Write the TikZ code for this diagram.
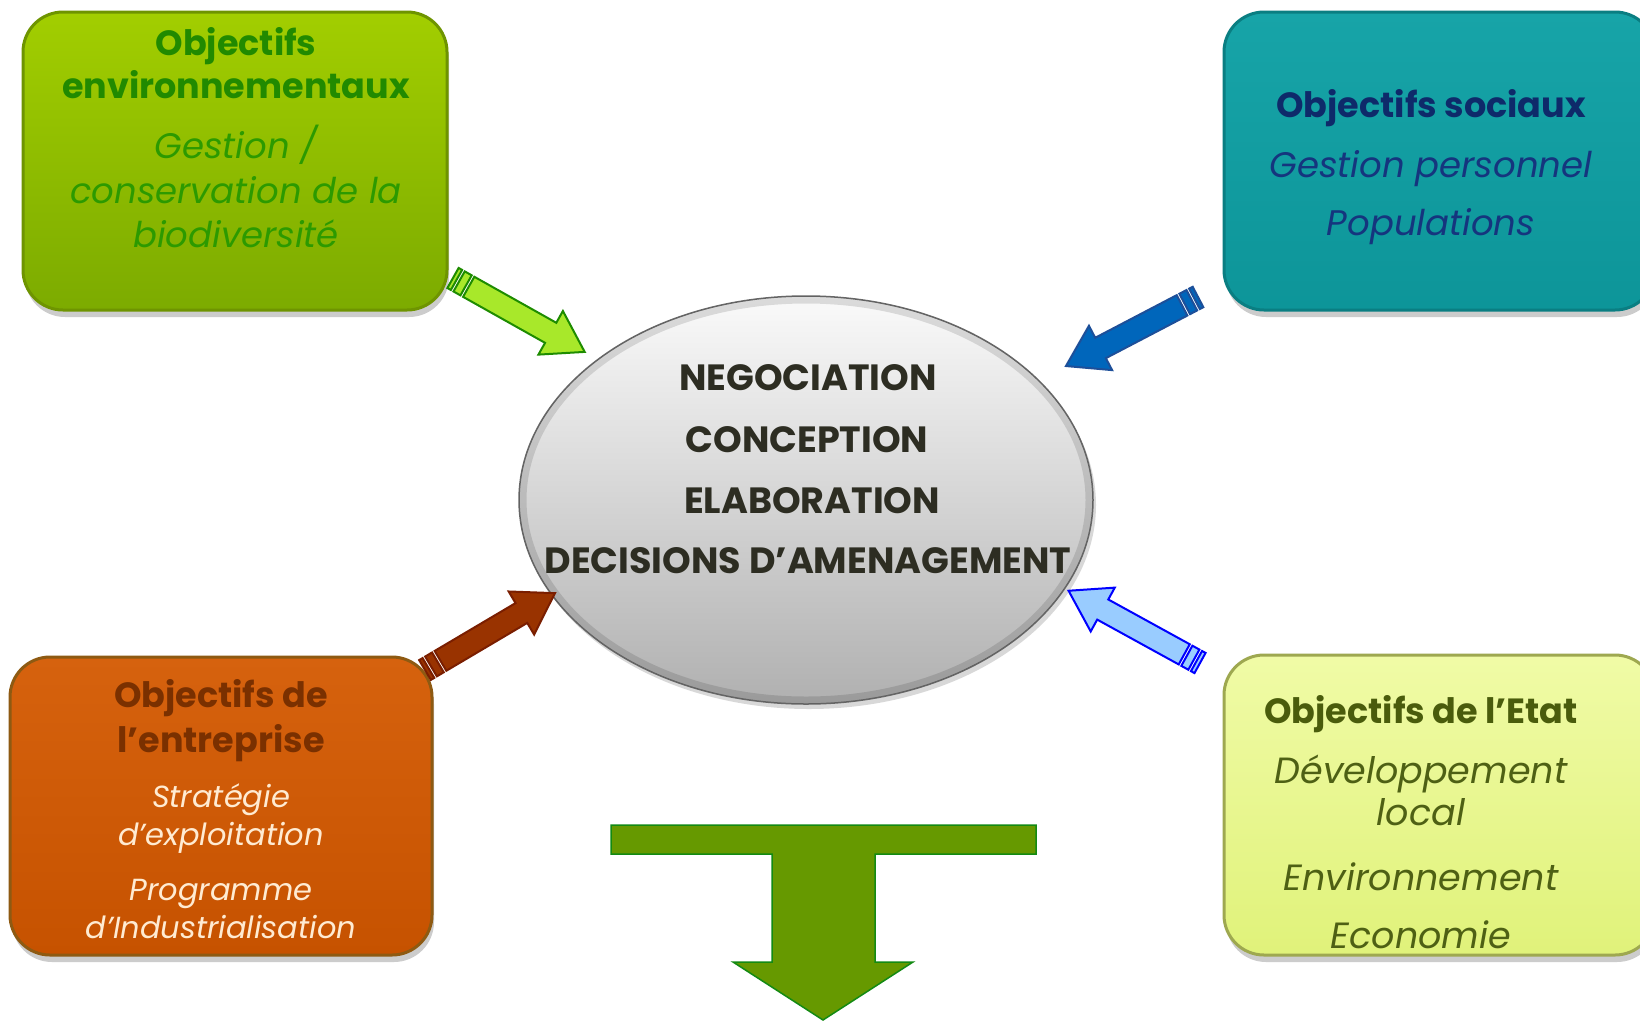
\documentclass[tikz,border=0pt]{standalone}
\usepackage{fontspec}
\setmainfont{Poppins}
\usetikzlibrary{shapes.geometric,shadows}
\definecolor{envTop}{HTML}{A2CE00}
\definecolor{envBot}{HTML}{7CAB00}
\definecolor{envRim}{HTML}{6E9400}
\definecolor{envTitle}{HTML}{218A00}
\definecolor{envText}{HTML}{2C9A00}
\definecolor{socTop}{HTML}{17A4A8}
\definecolor{socBot}{HTML}{0D9599}
\definecolor{socRim}{HTML}{0A7E82}
\definecolor{socTitle}{HTML}{0E2A6A}
\definecolor{socText}{HTML}{15357E}
\definecolor{entTop}{HTML}{D6620E}
\definecolor{entBot}{HTML}{C65200}
\definecolor{entRim}{HTML}{8E5A12}
\definecolor{entTitle}{HTML}{7A3000}
\definecolor{entText}{HTML}{FFEBD2}
\definecolor{etaTop}{HTML}{F0FBA6}
\definecolor{etaBot}{HTML}{E0F27A}
\definecolor{etaRim}{HTML}{9EA850}
\definecolor{etaTitle}{HTML}{4A5C0C}
\definecolor{etaText}{HTML}{4E6014}
\definecolor{coreText}{HTML}{2D2D22}
\definecolor{tFill}{HTML}{669900}
\definecolor{tDraw}{HTML}{138A13}
\definecolor{gaFill}{HTML}{A8E82A}
\definecolor{gaDraw}{HTML}{1E8C00}
\definecolor{baFill}{HTML}{0066BB}
\definecolor{baDraw}{HTML}{1D4F99}
\definecolor{raFill}{HTML}{993300}
\definecolor{raDraw}{HTML}{7A1E00}
\definecolor{laFill}{HTML}{99CCFF}
\definecolor{laDraw}{HTML}{0000FF}
\tikzset{
  objbox/.style n args={3}{draw=#3, line width=3pt, top color=#1, bottom color=#2,
    rounded corners=40pt, drop shadow={opacity=0.4, shadow xshift=2pt, shadow yshift=-7pt}},
  ttl/.style={font={\bfseries\fontsize{35}{40}\selectfont}, anchor=base, inner sep=0pt},
  itx/.style={font={\itshape\fontsize{35.5}{40}\selectfont}, anchor=base, inner sep=0pt},
  itxl/.style={font={\itshape\fontsize{36.5}{40}\selectfont}, anchor=base, inner sep=0pt},
  itxs/.style={font={\itshape\fontsize{30.5}{36}\selectfont}, anchor=base, inner sep=0pt},
  coretxt/.style={font={\bfseries\fontsize{36.5}{40}\selectfont}, anchor=base, inner sep=0pt, text=coreText},
  pics/striparrow/.style n args={3}{code={
    \filldraw[fill=#2, draw=#3, line width=2pt] (0,-11.5) rectangle (4,11.5);
    \filldraw[fill=#2, draw=#3, line width=2pt] (7,-11.5) rectangle (15,11.5);
    \filldraw[fill=#2, draw=#3, line width=2pt] (18,-11.5) -- ({#1-39},-11.5) -- ({#1-39},-25)
      -- (#1,0) -- ({#1-39},25) -- ({#1-39},11.5) -- (18,11.5) -- cycle;
  }}
}
\begin{document}
\begin{tikzpicture}[x=1pt,y=-1pt]
\fill[white] (0,0) rectangle (1640,1020);
\useasboundingbox (0,0) rectangle (1640,1020);

% boxes
\node[objbox={envTop}{envBot}{envRim}, minimum width=424pt, minimum height=298pt] (env) at (235,161) {};
\node[objbox={socTop}{socBot}{socRim}, minimum width=431pt, minimum height=298pt] (soc) at (1439.5,161) {};
\node[objbox={entTop}{entBot}{entRim}, minimum width=422pt, minimum height=298pt] (ent) at (221,806) {};
\node[objbox={etaTop}{etaBot}{etaRim}, minimum width=431pt, minimum height=300pt] (eta) at (1439.5,805) {};

% central ellipse
\node[ellipse, minimum width=574pt, minimum height=408pt, top color=gray!4, bottom color=gray!62,
  draw=black!60, line width=1.5pt, drop shadow={opacity=0.3, shadow xshift=3pt, shadow yshift=-5pt}] (core) at (806,500) {};
\draw[black, opacity=0.12, line width=7pt] (core.center) ellipse [x radius=283pt, y radius=200pt];

% texts
\node[ttl, text=envTitle] (envA) at (236,55) {Objectifs};
\node[ttl, text=envTitle] (envB) at (236,98) {environnementaux};
\node[itx, text=envText] (envC) at (236,158) {Gestion /};
\node[itx, text=envText] (envD) at (236,203) {conservation de la};
\node[itx, text=envText] (envE) at (236,247) {biodiversité};

\node[ttl, text=socTitle] (socA) at (1431,117) {Objectifs sociaux};
\node[itx, text=socText] (socB) at (1431,177) {Gestion personnel};
\node[itx, text=socText] (socC) at (1431,235) {Populations};

\node[ttl, text=entTitle] (entA) at (221,707) {Objectifs de};
\node[ttl, text=entTitle] (entB) at (221,752) {l’entreprise};
\node[itxs, text=entText] (entC) at (221,807) {Stratégie};
\node[itxs, text=entText] (entD) at (221,845) {d’exploitation};
\node[itxs, text=entText] (entE) at (221,900) {Programme};
\node[itxs, text=entText] (entF) at (221,938) {d’Industrialisation};

\node[ttl, text=etaTitle] (etaA) at (1421,723) {Objectifs de l’Etat};
\node[itxl, text=etaText] (etaB) at (1421,783) {Développement};
\node[itxl, text=etaText] (etaC) at (1421,825) {local};
\node[itxl, text=etaText] (etaD) at (1421,890) {Environnement};
\node[itxl, text=etaText] (etaE) at (1421,948) {Economie};

\node[coretxt] (coreA) at (808,390) {NEGOCIATION};
\node[coretxt] (coreB) at (807,452) {CONCEPTION};
\node[coretxt] (coreC) at (812,513) {ELABORATION};
\node[coretxt] (coreD) at (808,573) {DECISIONS D’AMENAGEMENT};

% striped arrows
\coordinate (gaT) at (453,278);
\coordinate (baT) at (1198,297);
\coordinate (raT) at (425,670);
\coordinate (laT) at (1200,663);
\pic[rotate=-29.3] at (gaT) {striparrow={151}{gaFill}{gaDraw}};
\pic[rotate=207.6] at (baT) {striparrow={149}{baFill}{baDraw}};
\pic[rotate=30.6] at (raT) {striparrow={151}{raFill}{raDraw}};
\pic[rotate=151.2] at (laT) {striparrow={150}{laFill}{laDraw}};

% bottom T arrow
\draw[fill=tFill, draw=tDraw, line width=1.5pt] (611,825) -- (1036,825) -- (1036,854) -- (875,854)
  -- (875,962) -- (913,962) -- (823,1020) -- (733,962) -- (772,962) -- (772,854) -- (611,854) -- cycle;
\end{tikzpicture}
\end{document}
